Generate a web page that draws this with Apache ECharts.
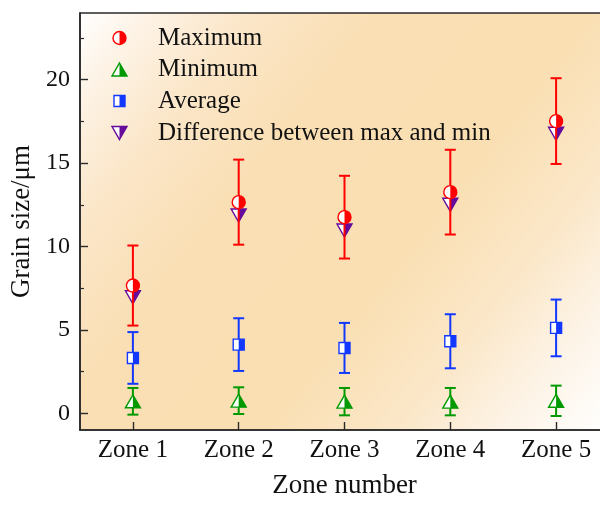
<!DOCTYPE html>
<html>
<head>
<meta charset="utf-8">
<script src="https://cdn.jsdelivr.net/npm/echarts@6/dist/echarts.min.js"></script>
<style>html,body{margin:0;padding:0;background:#fff;}#chart{width:600px;height:505px;}</style>
</head>
<body>
<div id="chart"></div>
<script>
// ---- data ----
const categories = ['Zone 1', 'Zone 2', 'Zone 3', 'Zone 4', 'Zone 5'];
const maxVal  = [7.66, 12.66, 11.76, 13.26, 17.52];
const maxErr  = [2.40, 2.55, 2.48, 2.54, 2.57];
const minVal  = [0.72, 0.76, 0.70, 0.70, 0.75];
const minErr  = [0.80, 0.80, 0.82, 0.82, 0.91];
const avgVal  = [3.32, 4.12, 3.92, 4.32, 5.12];
const avgErr  = [1.55, 1.58, 1.50, 1.62, 1.70];
const diffVal = [6.96, 11.86, 10.96, 12.50, 16.76];
const yTicks = [0, 5, 10, 15, 20];
const yMinorTicks = [2.5, 7.5, 12.5, 17.5, 22.5];
const legendNames = ['Maximum', 'Minimum', 'Average', 'Difference between max and min'];

const FONT = '"Liberation Serif", "Times New Roman", serif';
const COLORS = { max: '#ff0000', min: '#009a00', avg: '#1238ff', diff: '#650a9a' };

function markerEls(type, cx, cy, color) {
  const lw = 1.4;
  const out = [];
  if (type === 'circle') {
    const r = 6.5;
    out.push({type: 'circle', shape: {cx, cy, r}, style: {fill: '#fff', stroke: color, lineWidth: lw}});
    out.push({type: 'sector', shape: {cx, cy, r0: 0, r: r, startAngle: -Math.PI / 2, endAngle: Math.PI / 2, clockwise: true}, style: {fill: color}});
  } else if (type === 'up') {
    const w = 15, h = 13;
    out.push({type: 'polygon', shape: {points: [[cx, cy - h / 2], [cx + w / 2, cy + h / 2], [cx - w / 2, cy + h / 2]]}, style: {fill: '#fff', stroke: color, lineWidth: lw}});
    out.push({type: 'polygon', shape: {points: [[cx, cy - h / 2], [cx + w / 2, cy + h / 2], [cx, cy + h / 2]]}, style: {fill: color}});
  } else if (type === 'down') {
    const w = 15, h = 13;
    out.push({type: 'polygon', shape: {points: [[cx, cy + h / 2], [cx + w / 2, cy - h / 2], [cx - w / 2, cy - h / 2]]}, style: {fill: '#fff', stroke: color, lineWidth: lw}});
    out.push({type: 'polygon', shape: {points: [[cx, cy + h / 2], [cx + w / 2, cy - h / 2], [cx, cy - h / 2]]}, style: {fill: color}});
  } else if (type === 'square') {
    const s = 11;
    out.push({type: 'rect', shape: {x: cx - s / 2, y: cy - s / 2, width: s, height: s}, style: {fill: '#fff', stroke: color, lineWidth: lw}});
    out.push({type: 'rect', shape: {x: cx, y: cy - s / 2, width: s / 2, height: s}, style: {fill: color}});
  }
  return out;
}

function makeRender(type, color) {
  return function (params, api) {
    const idx = api.value(0), v = api.value(1), e = api.value(2);
    const c = api.coord([idx, v]);
    const children = [];
    if (e > 0) {
      const hi = api.coord([idx, v + e]);
      const lo = api.coord([idx, v - e]);
      const cap = 5.5;
      const st = {stroke: color, lineWidth: 2};
      children.push({type: 'line', shape: {x1: c[0], y1: hi[1], x2: c[0], y2: lo[1]}, style: st});
      children.push({type: 'line', shape: {x1: c[0] - cap, y1: hi[1], x2: c[0] + cap, y2: hi[1]}, style: st});
      children.push({type: 'line', shape: {x1: c[0] - cap, y1: lo[1], x2: c[0] + cap, y2: lo[1]}, style: st});
    }
    return {type: 'group', children: children.concat(markerEls(type, c[0], c[1], color))};
  };
}

function toData(vals, errs) {
  return vals.map((v, i) => [i, v, errs ? errs[i] : 0]);
}

// legend built with graphic elements
const legendSpec = [
  {name: legendNames[0], type: 'circle', color: COLORS.max},
  {name: legendNames[1], type: 'up', color: COLORS.min},
  {name: legendNames[2], type: 'square', color: COLORS.avg},
  {name: legendNames[3], type: 'down', color: COLORS.diff}
];
const legendRowsY = [38, 69.5, 101, 133];
const legendGraphics = [];
legendSpec.forEach((it, i) => {
  const y = legendRowsY[i];
  legendGraphics.push({type: 'group', z: 100, children: markerEls(it.type, 119.5, y, it.color)});
  legendGraphics.push({type: 'text', z: 100, x: 158, y: y, style: {text: it.name, font: '25px ' + FONT, fill: '#111', verticalAlign: 'middle', align: 'left'}});
});

const chart = echarts.init(document.getElementById('chart'), null, {renderer: 'canvas'});
chart.setOption({
  animation: false,
  backgroundColor: '#ffffff',
  grid: {
    left: 80, top: 13, width: 529, height: 417,
    outerBoundsMode: 'none',
    containLabel: false,
    show: true,
    borderColor: '#2a2a2a', borderWidth: 1.6,
    backgroundColor: new echarts.graphic.LinearGradient(0, 0, 1, 1, [
      {offset: 0, color: '#ffffff'},
      {offset: 0.08, color: '#fdf3e6'},
      {offset: 0.2, color: '#fbe6c8'},
      {offset: 0.35, color: '#fadfb4'},
      {offset: 0.6, color: '#fadfb3'},
      {offset: 0.75, color: '#fbe7c8'},
      {offset: 0.88, color: '#fdf4e8'},
      {offset: 1, color: '#ffffff'}
    ])
  },
  xAxis: {
    type: 'category',
    data: categories,
    boundaryGap: true,
    name: 'Zone number',
    nameLocation: 'middle',
    nameGap: 42,
    nameTextStyle: {fontFamily: FONT, fontSize: 27, color: '#111'},
    axisLine: {show: true, onZero: false, lineStyle: {color: '#2a2a2a', width: 1.6}},
    axisTick: {show: true, inside: true, alignWithLabel: true, length: 8, lineStyle: {color: '#2a2a2a', width: 1.4}},
    axisLabel: {fontFamily: FONT, fontSize: 25, color: '#111', margin: 8},
    splitLine: {show: false}
  },
  yAxis: [{
    type: 'value',
    min: -1, max: 24,
    name: 'Grain size/\u03bcm',
    nameLocation: 'middle',
    nameGap: 39,
    nameTextStyle: {fontFamily: FONT, fontSize: 27, color: '#111'},
    axisLine: {show: true, lineStyle: {color: '#2a2a2a', width: 1.6}},
    axisTick: {show: true, inside: true, length: 8, customValues: yTicks, lineStyle: {color: '#2a2a2a', width: 1.4}},
    axisLabel: {fontFamily: FONT, fontSize: 24, color: '#111', margin: 10, customValues: yTicks},
    splitLine: {show: false}
  }, {
    type: 'value',
    position: 'left',
    min: -1, max: 24,
    axisLine: {show: false},
    axisTick: {show: true, inside: true, length: 4, customValues: yMinorTicks, lineStyle: {color: '#2a2a2a', width: 1.2}},
    axisLabel: {show: false},
    splitLine: {show: false}
  }],
  graphic: legendGraphics,
  series: [
    {type: 'custom', name: legendNames[3], clip: false, z: 2, renderItem: makeRender('down', COLORS.diff), data: toData(diffVal, null)},
    {type: 'custom', name: legendNames[1], clip: false, z: 3, renderItem: makeRender('up', COLORS.min), data: toData(minVal, minErr)},
    {type: 'custom', name: legendNames[2], clip: false, z: 4, renderItem: makeRender('square', COLORS.avg), data: toData(avgVal, avgErr)},
    {type: 'custom', name: legendNames[0], clip: false, z: 5, renderItem: makeRender('circle', COLORS.max), data: toData(maxVal, maxErr)}
  ]
});
</script>
</body>
</html>
